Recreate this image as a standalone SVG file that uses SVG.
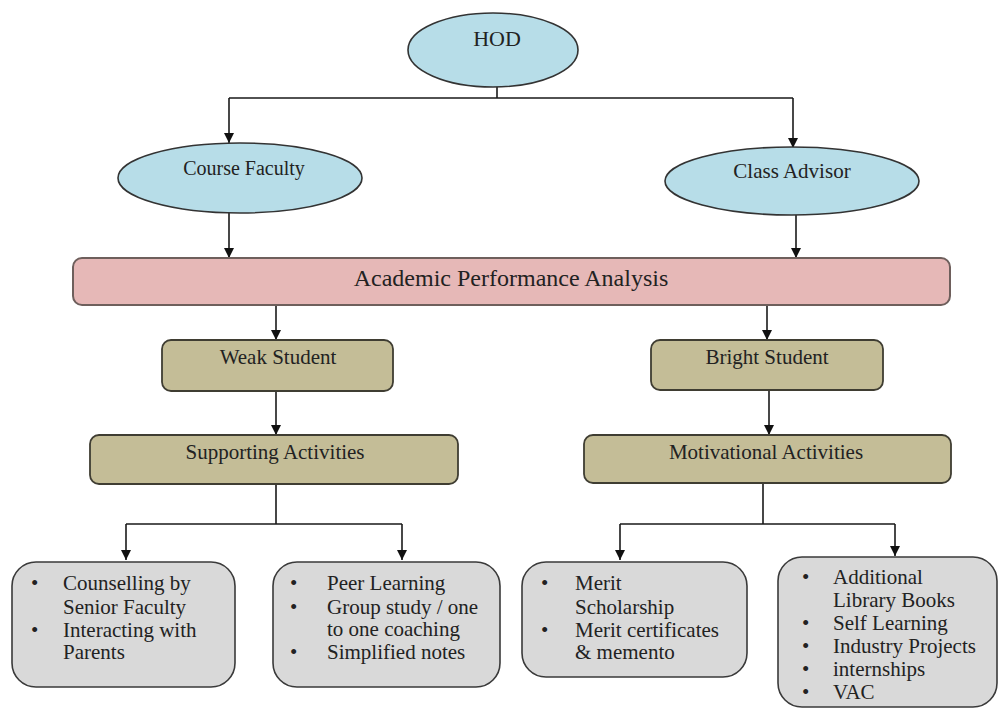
<svg xmlns="http://www.w3.org/2000/svg" width="999" height="708" viewBox="0 0 999 708">
<style>
text{font-family:"Liberation Serif","Times New Roman",serif;fill:#222}
.c{text-anchor:middle}
.ell{fill:#b7dde8;stroke:#333;stroke-width:1.6}
.pink{fill:#e6b8b7;stroke:#6e5f5c;stroke-width:2}
.tan{fill:#c4bd97;stroke:#3f3d32;stroke-width:1.8}
.grey{fill:#d9d9d9;stroke:#3a3a3a;stroke-width:1.6}
.t21{font-size:21px}
.b{font-size:21px}
.ln{fill:none;stroke:#1a1a1a;stroke-width:1.6}
</style>
<defs>
<marker id="ah" viewBox="0 0 10 10" refX="10" refY="5" markerWidth="10" markerHeight="10" markerUnits="userSpaceOnUse" orient="auto">
<path d="M0,0 L10,5 L0,10 Z" fill="#111"/>
</marker>
</defs>
<rect width="999" height="708" fill="#fff"/>
<g id="connectors">
<path class="ln" d="M497,87 V98 M229,98 H793"/>
<path class="ln" d="M229,98 V143" marker-end="url(#ah)"/>
<path class="ln" d="M793,98 V148" marker-end="url(#ah)"/>
<path class="ln" d="M229,213 V258" marker-end="url(#ah)"/>
<path class="ln" d="M796,215 V258" marker-end="url(#ah)"/>
<path class="ln" d="M276,305 V340" marker-end="url(#ah)"/>
<path class="ln" d="M767,305 V340" marker-end="url(#ah)"/>
<path class="ln" d="M276,391 V435" marker-end="url(#ah)"/>
<path class="ln" d="M769,390 V435" marker-end="url(#ah)"/>
<path class="ln" d="M276,484 V524 M126,524 H402 M763,483 V524 M620,524 H895"/>
<path class="ln" d="M126,524 V560" marker-end="url(#ah)"/>
<path class="ln" d="M402,524 V560" marker-end="url(#ah)"/>
<path class="ln" d="M620,524 V560" marker-end="url(#ah)"/>
<path class="ln" d="M895,524 V556" marker-end="url(#ah)"/>
</g>
<g id="hod">
<ellipse class="ell" cx="493" cy="50" rx="85" ry="37"/>
<text class="c" x="497" y="46" font-size="22">HOD</text>
</g>
<g id="course-faculty">
<ellipse class="ell" cx="240" cy="178" rx="122" ry="35"/>
<text class="c" x="244" y="175" font-size="20">Course Faculty</text>
</g>
<g id="class-advisor">
<ellipse class="ell" cx="792" cy="181" rx="127" ry="34"/>
<text class="c t21" x="792" y="178">Class Advisor</text>
</g>
<g id="analysis">
<rect class="pink" x="73" y="258" width="877" height="47" rx="9"/>
<text class="c" x="511" y="286" font-size="24">Academic Performance Analysis</text>
</g>
<g id="weak">
<rect class="tan" x="162" y="340" width="231" height="51" rx="9"/>
<text class="c t21" x="278" y="364">Weak Student</text>
</g>
<g id="bright">
<rect class="tan" x="651" y="340" width="232" height="50" rx="9"/>
<text class="c t21" x="767" y="364">Bright Student</text>
</g>
<g id="supporting">
<rect class="tan" x="90" y="435" width="368" height="49" rx="9"/>
<text class="c t21" x="275" y="459">Supporting Activities</text>
</g>
<g id="motivational">
<rect class="tan" x="584" y="435" width="367" height="48" rx="9"/>
<text class="c t21" x="766" y="459">Motivational Activities</text>
</g>
<g id="box1">
<rect class="grey" x="12" y="562" width="223" height="125" rx="24"/>
<text class="b" x="31" y="590">•</text><text class="b" x="63" y="590">Counselling by</text>
<text class="b" x="63" y="614">Senior Faculty</text>
<text class="b" x="31" y="637">•</text><text class="b" x="63" y="637">Interacting with</text>
<text class="b" x="63" y="659">Parents</text>
</g>
<g id="box2">
<rect class="grey" x="273" y="562" width="227" height="125" rx="24"/>
<text class="b" x="290" y="590">•</text><text class="b" x="327" y="590">Peer Learning</text>
<text class="b" x="290" y="614">•</text><text class="b" x="327" y="614">Group study / one</text>
<text class="b" x="327" y="636">to one coaching</text>
<text class="b" x="290" y="659">•</text><text class="b" x="327" y="659">Simplified notes</text>
</g>
<g id="box3">
<rect class="grey" x="522" y="562" width="225" height="115" rx="24"/>
<text class="b" x="541" y="590">•</text><text class="b" x="575" y="590">Merit</text>
<text class="b" x="575" y="614">Scholarship</text>
<text class="b" x="541" y="637">•</text><text class="b" x="575" y="637">Merit certificates</text>
<text class="b" x="575" y="659">&amp; memento</text>
</g>
<g id="box4">
<rect class="grey" x="778" y="557" width="219" height="150" rx="24"/>
<text class="b" x="802" y="584">•</text><text class="b" x="833" y="584">Additional</text>
<text class="b" x="833" y="607">Library Books</text>
<text class="b" x="802" y="630">•</text><text class="b" x="833" y="630">Self Learning</text>
<text class="b" x="802" y="653">•</text><text class="b" x="833" y="653">Industry Projects</text>
<text class="b" x="802" y="676">•</text><text class="b" x="833" y="676">internships</text>
<text class="b" x="802" y="699">•</text><text class="b" x="833" y="699">VAC</text>
</g>
</svg>
